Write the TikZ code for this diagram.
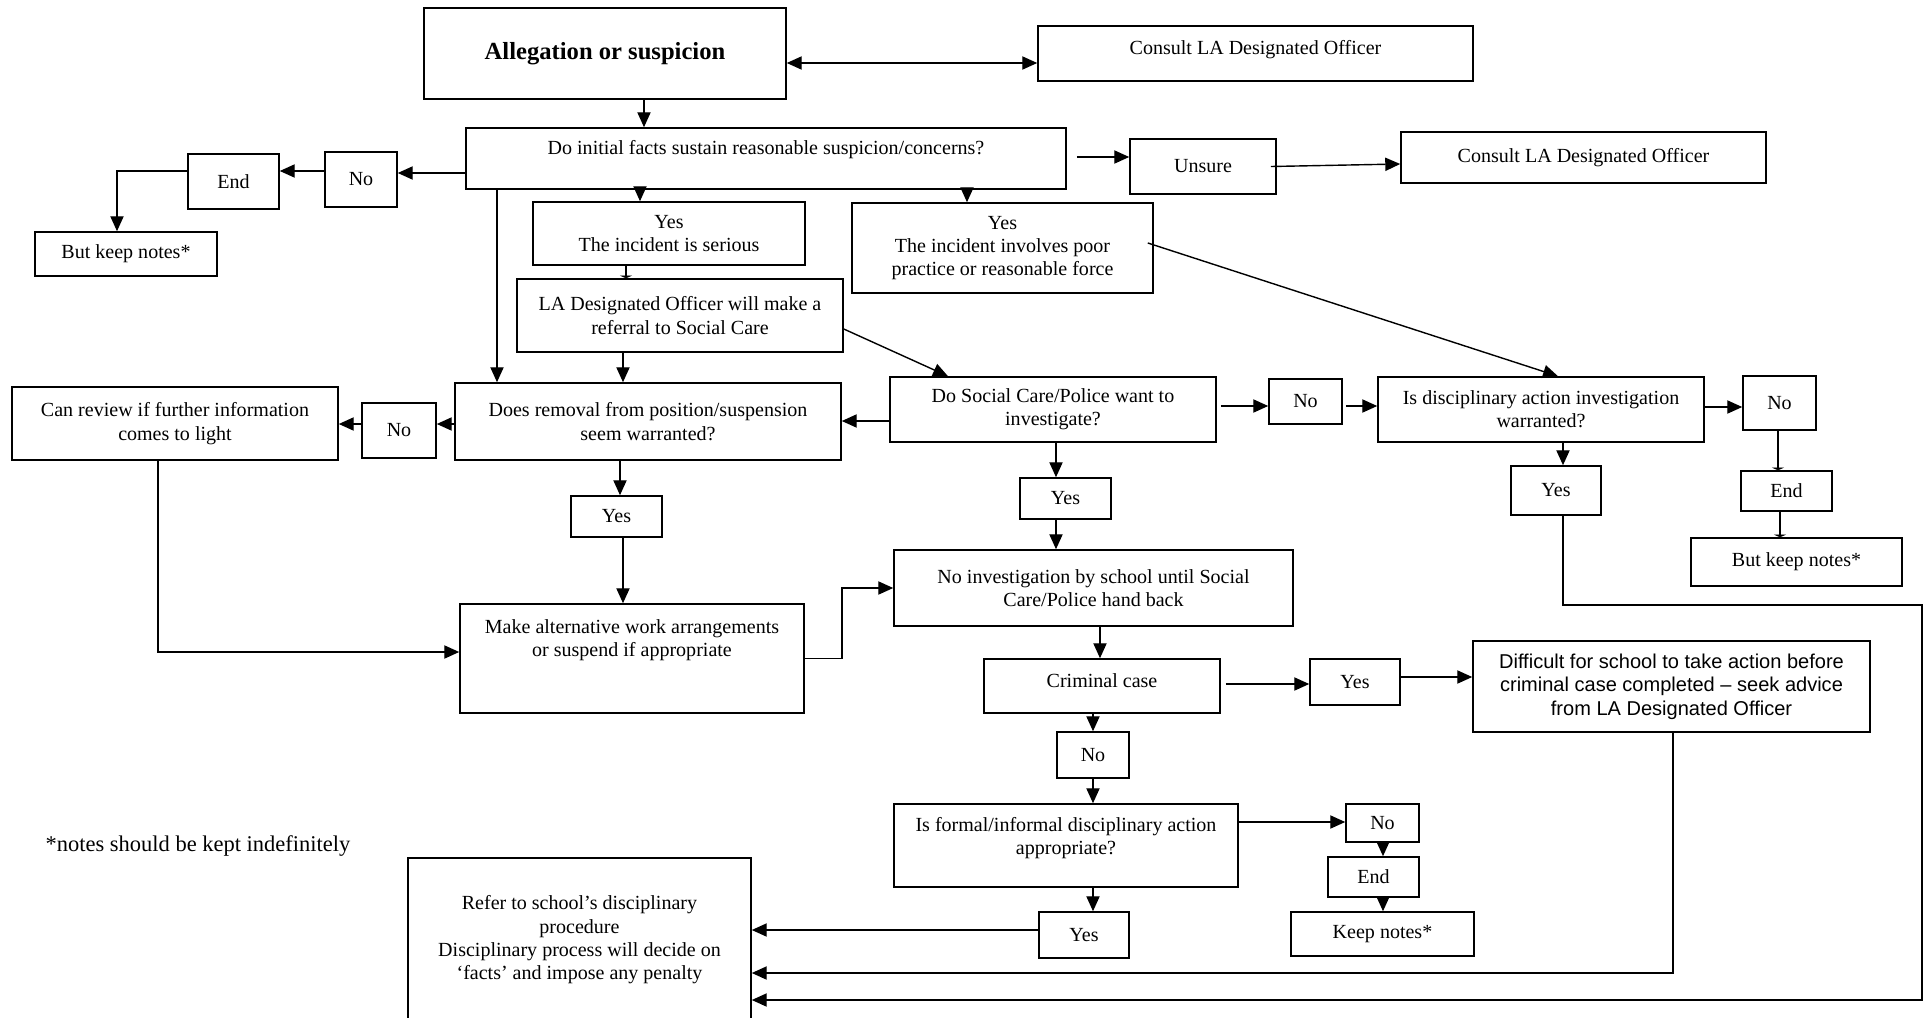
\documentclass[tikz,border=0pt]{standalone}
\usepackage{fontspec}
\setmainfont{Liberation Serif}
\newfontfamily\arialfont{Liberation Sans}
\usetikzlibrary{arrows.meta,calc}
\newcommand{\lifted}[2]{\raisebox{#1}[\height][\depth]{\begin{tabular}{@{}c@{}}#2\end{tabular}}}

\begin{document}
\begin{tikzpicture}[
  x=0.02cm, y=-0.02cm,
  font=\fontsize{11.4}{13.3}\selectfont,
  box/.style={rectangle, draw, line width=0.9pt, align=center, inner sep=2pt},
  sz/.style 2 args={minimum width=#1*0.02cm, minimum height=#2*0.02cm},
  arr/.style={-{Triangle[length=8.5pt,width=7.5pt]}, line width=0.8pt},
  twoway/.style={{Triangle[length=8.5pt,width=7.5pt]}-{Triangle[length=8.5pt,width=7.5pt]}, line width=0.8pt},
  stub/.style={-{Triangle[length=1.5pt,width=7pt]}, line width=0.8pt}
]
  \useasboundingbox (0,0) rectangle (1928,1018);

  % first question
  \node[box, sz={362}{91}, font=\fontsize{14}{16}\selectfont\bfseries] (alleg) at (605,53.5) {Allegation or suspicion};
  \node[box, sz={435}{55}] (consultA) at (1255.5,53.5) {\lifted{2pt}{Consult LA Designated Officer}};
  \node[box, sz={600}{61}] (dif) at (766,158.5) {\lifted{4.8pt}{Do initial facts sustain reasonable suspicion/concerns?}};
  \node[box, sz={72}{55}] (noA) at (361,179.5) {No};
  \node[box, sz={91}{55}] (endA) at (233.5,181.5) {End};
  \node[box, sz={182}{44}] (keepA) at (126,254) {But keep notes*};
  \node[box, sz={272}{63}] (yesSer) at (669,233.5) {Yes\\The incident is serious};
  \node[box, sz={301}{90}] (yesPoor) at (1002.5,248) {Yes\\The incident involves poor\\practice or reasonable force};
  \node[box, sz={146}{55}] (unsure) at (1203,166.5) {Unsure};
  \node[box, sz={365}{51}] (consultB) at (1583.5,157.5) {Consult LA Designated Officer};

  % referral and removal
  \node[box, sz={326}{73}] (referral) at (680,315.5) {LA Designated Officer will make a\\referral to Social Care};
  \node[box, sz={386}{77}] (removal) at (648,421.5) {Does removal from position/suspension\\seem warranted?};
  \node[box, sz={74}{55}] (noB) at (399,430.5) {No};
  \node[box, sz={326}{73}] (review) at (175,423.5) {Can review if further information\\comes to light};
  \node[box, sz={91}{41}] (yesB) at (616.5,516.5) {Yes};
  \node[box, sz={344}{109}] (makealt) at (632,658.5) {\lifted{10.5pt}{Make alternative work arrangements\\or suspend if appropriate}};

  % social care / police
  \node[box, sz={326}{65}] (dsc) at (1053,409.5) {Do Social Care/Police want to\\investigate?};
  \node[box, sz={73}{45}] (noC) at (1305.5,401.5) {No};
  \node[box, sz={326}{65}] (isdisc) at (1541,409.5) {Is disciplinary action investigation\\warranted?};
  \node[box, sz={73}{54}] (noD) at (1779.5,403) {No};
  \node[box, sz={91}{40}] (endD) at (1786.5,491) {End};
  \node[box, sz={211}{48}] (keepD) at (1796.5,562) {But keep notes*};
  \node[box, sz={90}{49}] (yesD) at (1556,490.5) {Yes};
  \node[box, sz={91}{41}] (yesC) at (1065.5,498.5) {Yes};
  \node[box, sz={399}{76}] (noinv) at (1093.5,588) {No investigation by school until Social\\Care/Police hand back};

  % criminal case and discipline
  \node[box, sz={236}{54}] (crim) at (1102,686) {\lifted{2pt}{Criminal case}};
  \node[box, sz={90}{46}] (yesE) at (1355,682) {Yes};
  \node[box, sz={397}{91}, font=\arialfont\fontsize{11.4}{13.4}\selectfont] (diff) at (1671.5,686.5) {Difficult for school to take action before\\criminal case completed – seek advice\\from LA Designated Officer};
  \node[box, sz={72}{46}] (noE) at (1093,755) {No};
  \node[box, sz={344}{83}] (formal) at (1066,845.5) {\lifted{4pt}{Is formal/informal disciplinary action\\appropriate?}};
  \node[box, sz={73}{38}] (noF) at (1382.5,823) {No};
  \node[box, sz={91}{40}] (endF) at (1373.5,877) {End};
  \node[box, sz={183}{44}] (keepF) at (1382.5,934) {Keep notes*};
  \node[box, sz={90}{46}] (yesF) at (1084,935) {Yes};
  \node[box, sz={343}{164}] (refer) at (579.5,940) {Refer to school’s disciplinary\\procedure\\Disciplinary process will decide on\\‘facts’ and impose any penalty};
  \node[font=\fontsize{12.8}{14}\selectfont] (note) at (198,846) {*notes should be kept indefinitely};

  % connectors
  \draw[twoway] ($(alleg.east)+(0,9.5)$) -- ($(consultA.west)+(0,9.5)$);
  \draw[arr] ($(alleg.south)+(39,0)$) coordinate (t) -- (t |- dif.north);
  \draw[arr] ($(dif.west)+(0,14.5)$) coordinate (t) -- (t -| noA.east);
  \draw[arr] ($(noA.west)+(0,-8.5)$) coordinate (t) -- (t -| endA.east);
  \draw[arr] ($(endA.west)+(0,-10.5)$) -| ($(keepA.north)+(-9,0)$);
  \draw[arr] ($(dif.east)+(10,-1.5)$) coordinate (t) -- (t -| unsure.west);
  \draw[arr] ($(unsure.east)+(-6,0)$) -- ($(consultB.west)+(0,6.5)$);
  \draw[arr] ($(dif.south)+(-126,0)$) coordinate (t) -- (t |- yesSer.north);
  \draw[arr] ($(dif.south)+(201,0)$) coordinate (t) -- (t |- yesPoor.north);
  \draw[arr] ($(dif.south)+(-269,0)$) coordinate (t) -- (t |- removal.north);
  \draw[stub] ($(yesSer.south)+(-43,0)$) coordinate (t) -- (t |- referral.north);
  \draw[arr] ($(referral.east)+(0,13.5)$) -- ($(dsc.north)+(-105,0)$);
  \draw[arr] ($(yesPoor.east)+(-6,-5)$) -- ($(isdisc.north)+(17,0)$);
  \draw[arr] ($(referral.south)+(-57,0)$) coordinate (t) -- (t |- removal.north);
  \draw[arr] ($(removal.west)+(0,2.5)$) coordinate (t) -- (t -| noB.east);
  \draw[arr] ($(noB.west)+(0,-6.5)$) coordinate (t) -- (t -| review.east);
  \draw[arr] ($(review.south)+(-17,0)$) |- ($(makealt.west)+(0,-6.5)$);
  \draw[arr] ($(removal.south)+(-28,0)$) coordinate (t) -- (t |- yesB.north);
  \draw[arr] ($(yesB.south)+(6.5,0)$) coordinate (t) -- (t |- makealt.north);
  \draw[arr] (makealt.east) -- (makealt.east -| removal.east) |- (noinv.west);
  \draw[arr] ($(dsc.west)+(0,11.5)$) coordinate (t) -- (t -| removal.east);
  \draw[arr] ($(dsc.east)+(4,-3.5)$) coordinate (t) -- (t -| noC.west);
  \draw[arr] ($(noC.east)+(3,4.5)$) coordinate (t) -- (t -| isdisc.west);
  \draw[arr] ($(isdisc.east)+(0,-2.5)$) coordinate (t) -- (t -| noD.west);
  \draw[stub] ($(noD.south)+(-1.5,0)$) coordinate (t) -- (t |- endD.north);
  \draw[stub] ($(endD.south)+(-6.5,0)$) coordinate (t) -- (t |- keepD.north);
  \draw[arr] ($(isdisc.south)+(22,0)$) coordinate (t) -- (t |- yesD.north);
  \draw[arr] ($(yesD.south)+(7,0)$) -- ++(0,89) -- ++(359,0) |- ($(refer.east)+(0,60)$);
  \draw[arr] ($(dsc.south)+(3,0)$) coordinate (t) -- (t |- yesC.north);
  \draw[arr] ($(yesC.south)+(-9.5,0)$) coordinate (t) -- (t |- noinv.north);
  \draw[arr] ($(noinv.south)+(6.5,0)$) coordinate (t) -- (t |- crim.north);
  \draw[arr] ($(crim.east)+(5,-2)$) coordinate (t) -- (t -| yesE.west);
  \draw[arr] ($(yesE.east)+(0,-5)$) coordinate (t) -- (t -| diff.west);
  \draw[arr] ($(diff.south)+(1.5,0)$) |- ($(refer.east)+(0,33)$);
  \draw[arr] ($(crim.south)+(-9,0)$) coordinate (t) -- (t |- noE.north);
  \draw[arr] (noE.south) -- (noE.south |- formal.north);
  \draw[arr] ($(formal.east)+(0,-23.5)$) coordinate (t) -- (t -| noF.west);
  \draw[arr] ($(noF.south)+(0.5,0)$) coordinate (t) -- (t |- endF.north);
  \draw[arr] ($(endF.south)+(9.5,0)$) coordinate (t) -- (t |- keepF.north);
  \draw[arr] ($(formal.south)+(27,0)$) coordinate (t) -- (t |- yesF.north);
  \draw[arr] ($(yesF.west)+(0,-5)$) coordinate (t) -- (t -| refer.east);
\end{tikzpicture}
\end{document}
